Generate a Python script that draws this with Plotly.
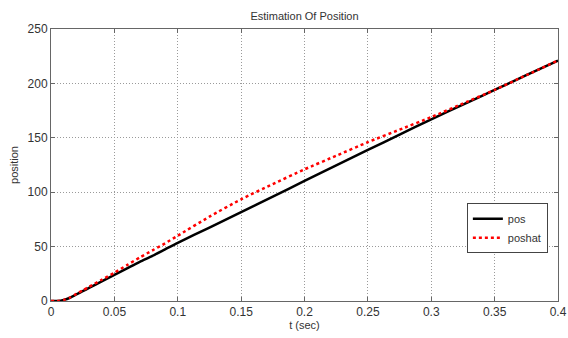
import plotly.graph_objects as go

t = [0, 0.005, 0.01, 0.015, 0.02, 0.025, 0.03, 0.04, 0.05, 0.06, 0.07, 0.08, 0.09, 0.1,
     0.125, 0.15, 0.175, 0.2, 0.225, 0.25, 0.275, 0.3, 0.325, 0.35, 0.375, 0.4]
pos = [0, 0, 1, 3, 6, 9, 12, 18, 24, 30, 36, 41.5, 47.5, 53.5,
       67.5, 81.7, 96, 110.3, 124.6, 138.8, 153, 167, 180.5, 194, 207.5, 221]
poshat = [0, 0, 1, 3.2, 6.5, 9.8, 13, 19.5, 26, 33, 40, 46.5, 53, 60,
          77.5, 93.5, 107.5, 121, 133.5, 146, 157.5, 169, 181.5, 194, 207.5, 221]

x_ticks = [0, 0.05, 0.1, 0.15, 0.2, 0.25, 0.3, 0.35, 0.4]
x_labels = ["0", "0.05", "0.1", "0.15", "0.2", "0.25", "0.3", "0.35", "0.4"]
y_ticks = [0, 50, 100, 150, 200, 250]

FONT = "Liberation Sans, Arial"

fig = go.Figure()
fig.add_trace(go.Scatter(x=t, y=pos, mode="lines", name="pos",
                         line=dict(color="black", width=2.5, shape="spline", smoothing=0.6)))
fig.add_trace(go.Scatter(x=t, y=poshat, mode="lines", name="poshat",
                         line=dict(color="#ff0000", width=2.5, dash="dot", shape="spline", smoothing=0.6)))

axis_common = dict(
    showgrid=True, gridcolor="#9a9a9a", griddash="1px,2px", gridwidth=1,
    showline=True, linecolor="#666666", linewidth=1, mirror="ticks",
    ticks="inside", ticklen=4, tickcolor="#666666",
    zeroline=False, automargin=False,
    tickfont=dict(family=FONT, size=12, color="#333333"),
)

fig.update_xaxes(range=[0, 0.4], tickvals=x_ticks, ticktext=x_labels,
                 title=dict(text="t (sec)", font=dict(family=FONT, size=11, color="#333333"),
                            standoff=0),
                 **axis_common)
fig.update_yaxes(range=[0, 250], tickvals=y_ticks,
                 title=dict(text="position", font=dict(family=FONT, size=11, color="#333333"),
                            standoff=6),
                 **axis_common)

fig.update_layout(
    width=568, height=338,
    margin=dict(l=51, r=10, t=29, b=37),
    paper_bgcolor="white", plot_bgcolor="white",
    title=dict(text="Estimation Of Position", xref="paper", x=0.5, xanchor="center",
               y=0.953, yanchor="middle",
               font=dict(family=FONT, size=11, color="#333333")),
    legend=dict(x=0.98, xanchor="right", y=0.176, yanchor="bottom",
                bgcolor="white", bordercolor="#444444", borderwidth=1,
                font=dict(family=FONT, size=11, color="#333333"),
                tracegroupgap=0, itemwidth=30),
    showlegend=True,
)

fig.write_html("out.html", config={"displayModeBar": False},
               post_script="document.body.style.margin='0';")
